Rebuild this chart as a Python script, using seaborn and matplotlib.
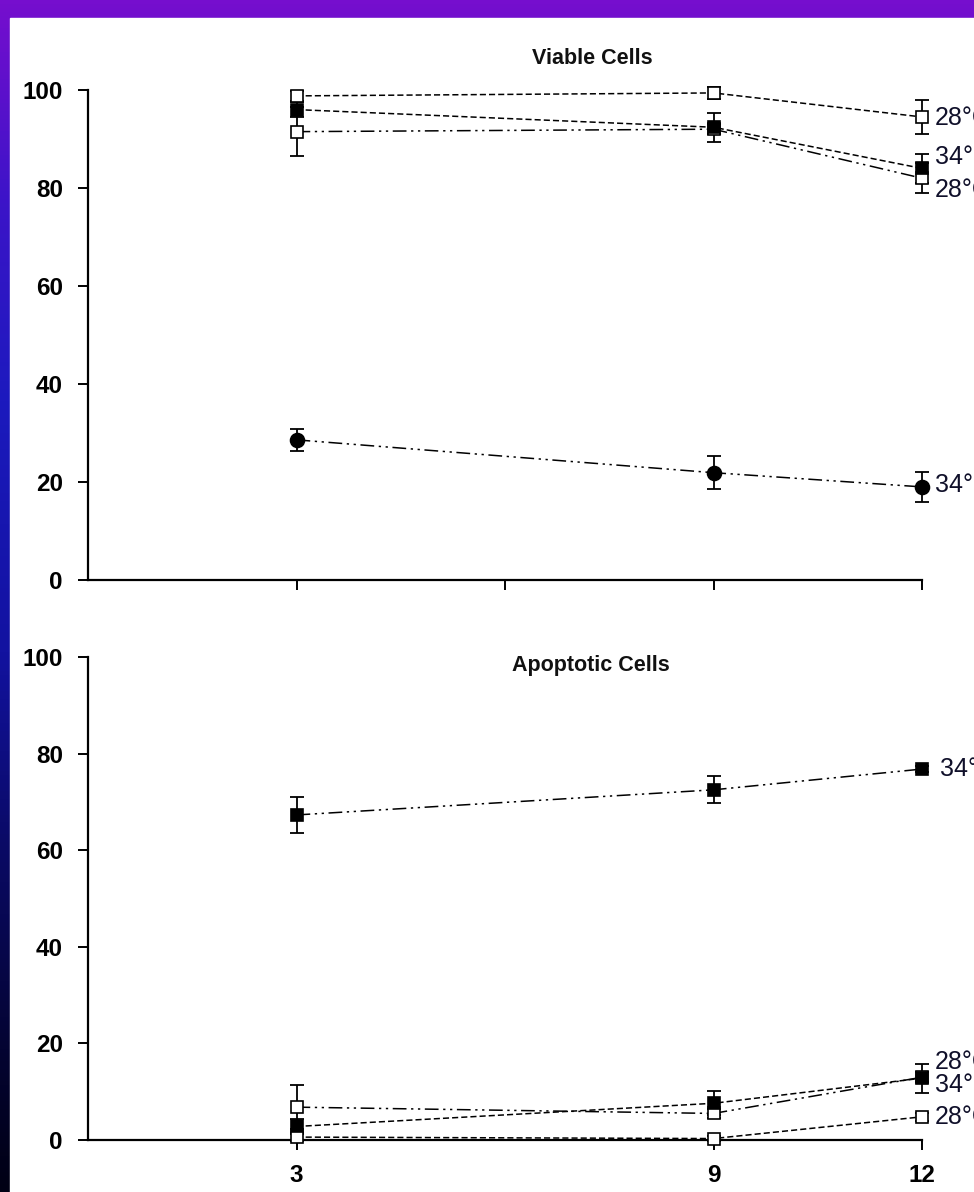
import numpy as np
import matplotlib
matplotlib.use("Agg")
import matplotlib.pyplot as plt
from matplotlib.patches import Rectangle
import seaborn as sns

# time points (days)
days = [3, 9, 12]
top_ticks = [3, 6, 9, 12]
bottom_ticks = [3, 9, 12]
bottom_tick_labels = ["3", "9", "12"]
y_ticks = [0, 20, 40, 60, 80, 100]

# Viable cells (%)
viable_28a = [98.8, 99.4, 94.5]
viable_28a_err = [1.0, 1.2, 3.5]
viable_34a = [96.0, 92.4, 84.0]
viable_34a_err = [1.5, 3.0, 3.0]
viable_28b = [91.5, 92.0, 82.0]
viable_28b_err = [5.0, 1.0, 3.0]
viable_34b = [28.6, 21.9, 19.0]
viable_34b_err = [2.3, 3.4, 3.0]

# Apoptotic cells (%)
apop_28a = [0.6, 0.3, 4.8]
apop_28a_err = [0.8, 0.5, 0.8]
apop_34a = [2.8, 7.6, 12.8]
apop_34a_err = [1.5, 2.5, 3.0]
apop_28b = [6.8, 5.5, 13.0]
apop_28b_err = [4.6, 1.0, 1.0]
apop_34b = [67.3, 72.5, 76.8]
apop_34b_err = [3.7, 2.8, 0.6]

labels_top = ["28°C", "34°C", "28°C", "34°C"]
labels_bottom = ["34°C", "28°C", "34°C", "28°C"]

sns.set_style("ticks")
plt.rcParams["font.family"] = ["Liberation Sans", "DejaVu Sans"]

fig = plt.figure(figsize=(9.74, 11.92), dpi=100)

# purple / blue slide frame
bg = fig.add_axes([0, 0, 1, 1])
bg.set_zorder(-5)
py = np.linspace(0, 1192, 300)
stops = [0, 200, 400, 650, 850, 1050, 1192]
rr = [118, 60, 28, 18, 10, 4, 0]
gg = [14, 20, 26, 18, 10, 4, 0]
bb = [206, 200, 190, 160, 100, 50, 20]
grad = np.stack([np.interp(py, stops, rr), np.interp(py, stops, gg),
                 np.interp(py, stops, bb)], axis=1)[:, None, :] / 255.0
bg.imshow(grad, aspect="auto", extent=[0, 1, 0, 1], origin="upper")
bg.add_patch(Rectangle((10 / 974, 0), 1, 1 - 18 / 1192, color="white"))
bg.set_xlim(0, 1)
bg.set_ylim(0, 1)
bg.axis("off")

ax1 = fig.add_axes([88 / 974, 1 - 580 / 1192, 834 / 974, 490 / 1192])
ax2 = fig.add_axes([88 / 974, 1 - 1140 / 1192, 834 / 974, 483 / 1192])

dashed = (0, (4, 2))
dashdotdot = (0, (9, 3, 1.5, 3, 1.5, 3))


def draw(ax, y, err, ls, marker, filled):
    mfc = "black" if filled else "white"
    eb = ax.errorbar(days, y, yerr=err, fmt="none", ecolor="black", elinewidth=1.3,
                     capsize=5, capthick=1.3, zorder=3)
    for art in eb.lines[1] + eb.lines[2]:
        art.set_clip_on(False)
    sns.lineplot(x=days, y=y, ax=ax, color="black", linewidth=1.1, linestyle=ls,
                 marker=marker, markersize=9 if marker == "s" else 10,
                 mfc=mfc, mec="black", mew=1.2, zorder=5 if filled else 4,
                 clip_on=False)


draw(ax1, viable_28a, viable_28a_err, dashed, "s", False)
draw(ax1, viable_34a, viable_34a_err, dashed, "s", True)
draw(ax1, viable_28b, viable_28b_err, dashdotdot, "s", False)
draw(ax1, viable_34b, viable_34b_err, dashdotdot, "o", True)

draw(ax2, apop_28a, apop_28a_err, dashed, "s", False)
draw(ax2, apop_34a, apop_34a_err, dashed, "s", True)
draw(ax2, apop_28b, apop_28b_err, dashdotdot, "s", False)
draw(ax2, apop_34b, apop_34b_err, dashdotdot, "s", True)

for ax in (ax1, ax2):
    ax.set_xlim(0, 12)
    ax.set_ylim(0, 100)
    ax.set_yticks(y_ticks)
    sns.despine(ax=ax)
    for s in ("left", "bottom"):
        ax.spines[s].set_linewidth(1.6)
        ax.spines[s].set_color("black")
    ax.tick_params(axis="both", direction="out", length=7, width=1.4,
                   colors="black", labelsize=17.5)
    ax.tick_params(axis="y", pad=11)
    ax.tick_params(axis="x", pad=10)
    for t in ax.get_yticklabels() + ax.get_xticklabels():
        t.set_fontweight("bold")
    ax.set_xlabel("")
    ax.set_ylabel("")
    ax.patch.set_alpha(0)

ax1.set_xticks(top_ticks)
ax1.set_xticklabels([])
ax2.set_xticks(bottom_ticks)
ax2.set_xticklabels(bottom_tick_labels, fontweight="bold")

# series labels at the right end (cut by the slide edge, as in the slide)
lab_font = dict(fontsize=18, color="#10102a", va="center", ha="left",
                clip_on=False, family=["Liberation Sans Narrow", "Liberation Sans"])
for txt, yv in zip(labels_top, [94.3, 86.3, 79.6, 19.4]):
    ax1.text(12.19, yv, txt, **lab_font)
for txt, yv, xv in zip(labels_bottom, [76.8, 16.1, 11.4, 4.8],
                       [12.26, 12.19, 12.19, 12.19]):
    ax2.text(xv, yv, txt, **lab_font)

fig.text(592 / 974, 1 - 58 / 1192, "Viable Cells", ha="center", va="center",
         fontsize=15.5, fontweight="bold", color="#111111",
         family=["Liberation Sans Narrow", "Liberation Sans"])
fig.text(591 / 974, 1 - 665 / 1192, "Apoptotic Cells", ha="center", va="center",
         fontsize=15.5, fontweight="bold", color="#111111",
         family=["Liberation Sans Narrow", "Liberation Sans"])

fig.savefig("out.png", dpi=100)
